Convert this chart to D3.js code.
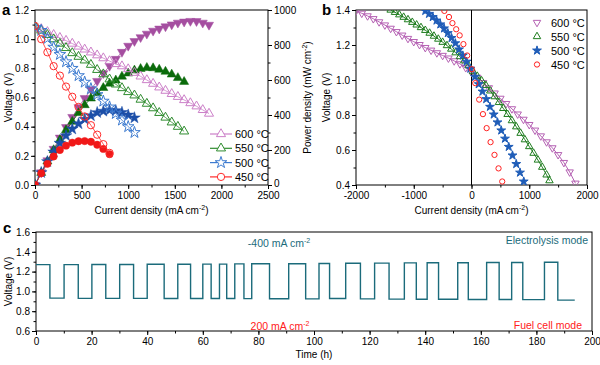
<!DOCTYPE html>
<html><head><meta charset="utf-8">
<script src="https://cdn.jsdelivr.net/npm/d3@7"></script>
<style>body{margin:0;background:#fff} svg{display:block} text{font-family:"Liberation Sans",Arial,sans-serif}</style>
</head><body><svg id="c" width="600" height="365"></svg>
<script>
// ---------- DATA ----------
const temps = ["600 °C", "550 °C", "500 °C", "450 °C"];
const currentA = [0,67,133,200,267,333,400,467,533,600,667,733,800,867,933,1000,1067,1133,1200,1267,1333,1400,1467,1533,1600,1667,1733,1800,1867];
const V600 = [1.09,1.07,1.05,1.03,1.01,0.99,0.97,0.95,0.93,0.91,0.89,0.87,0.85,0.83,0.815,0.795,0.77,0.745,0.72,0.695,0.67,0.647,0.625,0.605,0.583,0.562,0.54,0.515,0.49];
const P600 = [0,72,140,206,270,330,388,444,496,546,594,638,680,720,760,795,822,844,864,881,893,906,917,927,933,937,936,927,915];
const V550 = [1.09,1.06,1.03,1.00,0.97,0.94,0.905,0.88,0.855,0.825,0.79,0.76,0.725,0.69,0.665,0.638,0.615,0.586,0.558,0.527,0.495,0.463,0.43,0.40,0.368];
const P550 = [0,70,135,200,258,314,362,412,457,495,525,555,580,598,620,638,655,664,670,668,660,648,632,612,590];
const V500 = [1.08,1.06,1.005,0.945,0.895,0.845,0.80,0.75,0.705,0.66,0.62,0.575,0.535,0.49,0.445,0.40,0.36];
const P500 = [0,71,134,189,239,282,320,350,376,396,414,422,428,425,415,400,384];
const V450 = [1.09,1.00,0.91,0.815,0.75,0.675,0.605,0.535,0.47,0.41,0.345,0.28,0.22];
const P450 = [0,67,121,163,200,225,242,250,251,247,230,206,176];

// panel b (reversible operation)
const bI600 = [-2000,-1900,-1800,-1700,-1600,-1500,-1400,-1300,-1200,-1100,-1000,-900,-800,-700,-600,-500,-400,-300,-200,-100,0,100,200,300,400,500,600,700,800,900,1000,1100,1200,1300,1400,1500,1600,1700,1800];
const bV600 = [1.395,1.381,1.366,1.350,1.332,1.314,1.295,1.276,1.256,1.237,1.219,1.202,1.185,1.170,1.155,1.140,1.125,1.109,1.092,1.070,1.045,1.015,0.985,0.955,0.925,0.895,0.865,0.835,0.805,0.775,0.745,0.713,0.680,0.646,0.612,0.573,0.528,0.474,0.410];
const bI550 = [-1400,-1325,-1250,-1175,-1100,-1025,-950,-875,-800,-725,-650,-575,-500,-425,-350,-275,-200,-125,-50,25,100,175,250,325,400,475,550,625,700,775,850,925,1000,1075,1150,1225,1300,1350];
const bV550 = [1.400,1.387,1.373,1.359,1.345,1.330,1.315,1.300,1.284,1.268,1.251,1.234,1.216,1.197,1.177,1.156,1.134,1.110,1.082,1.048,1.022,0.996,0.969,0.938,0.905,0.872,0.838,0.804,0.768,0.733,0.696,0.659,0.620,0.582,0.543,0.502,0.458,0.425];
const bI500 = [-800,-735,-670,-605,-540,-475,-410,-345,-280,-215,-150,-85,-20,60,125,190,255,320,385,450,515,580,645,710,775,840,905];
const bV500 = [1.395,1.378,1.36,1.34,1.318,1.295,1.268,1.24,1.21,1.175,1.14,1.105,1.065,1.018,0.976,0.934,0.891,0.847,0.803,0.758,0.712,0.665,0.618,0.569,0.520,0.471,0.420];
const bI450 = [-470,-390,-330,-265,-205,-140,-75,5,65,133,198,262,330,398,468,532];
const bV450 = [1.395,1.36,1.325,1.29,1.255,1.205,1.14,1.062,0.982,0.888,0.805,0.725,0.645,0.572,0.495,0.42];

// panel c (cycling)
const highStart = [0,10.1,20.1,30.1,40,51,60,66,71.5,77.6,90.9,101.8,111.4,121.8,132.5,140.7,151.7,162.1,171.1,182.9];
const highEnd   = [5,15.2,25.1,35.1,46.1,55.6,63,68.6,74.8,84,97,105.6,116.7,127,136.8,144.8,155.5,166.6,175.1,187.7];
const highV = [1.270,1.270,1.272,1.272,1.274,1.274,1.276,1.276,1.278,1.280,1.280,1.282,1.284,1.286,1.288,1.290,1.290,1.292,1.292,1.294];
const lowV  = [0.932,0.930,0.930,0.930,0.929,0.928,0.928,0.928,0.927,0.926,0.925,0.928,0.924,0.922,0.920,0.920,0.918,0.918,0.917,0.912];
const endTime = 193.8;

// ticks
const aXTicks = [0,500,1000,1500,2000,2500];
const aYTicks = [0,0.2,0.4,0.6,0.8,1.0,1.2];
const aPTicks = [0,200,400,600,800,1000];
const bXTicks = [-2000,-1000,0,1000,2000];
const bYTicks = [0.4,0.6,0.8,1.0,1.2,1.4];
const cXTicks = [0,20,40,60,80,100,120,140,160,180,200];
const cYTicks = [0.6,0.8,1.0,1.2,1.4,1.6];

// ---------- STYLE ----------
const openCol = {"600 °C":"#cc7fc8","550 °C":"#2f8c2f","500 °C":"#3d7bd0","450 °C":"#ff2a2a"};
const fillCol = {"600 °C":"#a54ea0","550 °C":"#0b6b0b","500 °C":"#1c4fa8","450 °C":"#f01818"};
const bCol = {"600 °C":"#b561b3","550 °C":"#1f7d1f","500 °C":"#1f5db8","450 °C":"#ff2020"};
const teal = "#1b6b7b";
const FONT = '"Liberation Sans", Arial, sans-serif';

const svg = d3.select("#c");
const defs = svg.append("defs");

function addAxis(g, scale, kind, major, minor, fmt, tx, ty) {
  const mk = kind === "b" ? d3.axisBottom : kind === "l" ? d3.axisLeft : d3.axisRight;
  const gm = g.append("g").attr("transform", `translate(${tx},${ty})`)
    .call(mk(scale).tickValues(minor).tickSize(2.5).tickSizeOuter(0).tickFormat(""));
  gm.select(".domain").remove();
  const ga = g.append("g").attr("transform", `translate(${tx},${ty})`)
    .call(mk(scale).tickValues(major).tickSize(4).tickSizeOuter(0).tickPadding(kind === "b" ? 3 : 2).tickFormat(fmt));
  ga.select(".domain").remove();
  [gm, ga].forEach(x => x.selectAll("line").attr("stroke", "#000").attr("stroke-width", 1));
  ga.selectAll("text").attr("font-family", FONT).attr("font-size", 10).attr("fill", "#000");
  return ga;
}
function frame(x0, y0, x1, y1) {
  svg.append("rect").attr("x", x0).attr("y", y0).attr("width", x1 - x0).attr("height", y1 - y0)
    .attr("fill", "none").attr("stroke", "#000").attr("stroke-width", 1);
}
function clip(id, x0, y0, x1, y1) {
  defs.append("clipPath").attr("id", id).append("rect")
    .attr("x", x0).attr("y", y0).attr("width", x1 - x0).attr("height", y1 - y0);
}
function cmTitle(x, y, pre, rot) {
  const t = svg.append("text").attr("font-family", FONT).attr("font-size", 10).attr("fill", "#000")
    .attr("text-anchor", "middle");
  if (rot) t.attr("transform", `translate(${x},${y}) rotate(-90)`); else t.attr("x", x).attr("y", y);
  t.append("tspan").text(pre + " (m" + (pre.startsWith("Power") ? "W" : "A") + " cm");
  t.append("tspan").attr("font-size", 7).attr("dy", -4).text("-2");
  t.append("tspan").attr("dy", 4).text(")");
  return t;
}
const sym = {
  tri: d3.symbol().type(d3.symbolTriangle),
  star: d3.symbol().type(d3.symbolStar),
  circ: d3.symbol().type(d3.symbolCircle)
};

// ---------- PANEL A ----------
const A = {x0: 35, x1: 268, y0: 10, y1: 185};
const xa = d3.scaleLinear().domain([0, 2500]).range([A.x0, A.x1]);
const ya = d3.scaleLinear().domain([0, 1.2]).range([A.y1, A.y0]);
const pa = d3.scaleLinear().domain([0, 1000]).range([A.y1, A.y0]);
clip("clipA", A.x0, A.y0, A.x1, A.y1);
const gA = svg.append("g");
addAxis(gA, xa, "b", aXTicks, d3.range(0, 2501, 250), d => String(d), 0, A.y1);
addAxis(gA, ya, "l", aYTicks, d3.range(0, 12.01, 1).map(v => v / 10), d3.format(".1f"), A.x0, 0);
const rAx = addAxis(gA, pa, "r", aPTicks, d3.range(0, 1001, 100), d => String(d), A.x1, 0);
rAx.selectAll("text").filter(d => d === 0).attr("dy", "0.1em");
frame(A.x0, A.y0, A.x1, A.y1);

const seriesA = [
  {t: "600 °C", V: V600, P: P600, shape: "tri", pShape: "tri", pRot: 180, size: 36},
  {t: "550 °C", V: V550, P: P550, shape: "tri", pShape: "tri", pRot: 0, size: 36},
  {t: "500 °C", V: V500, P: P500, shape: "star", pShape: "star", pRot: 0, size: 42},
  {t: "450 °C", V: V450, P: P450, shape: "circ", pShape: "circ", pRot: 0, size: 42}
];
const plotA = svg.append("g").attr("clip-path", "url(#clipA)");
// power curves (filled)
seriesA.forEach(s => {
  const pts = s.P.map((p, i) => [currentA[i], p]);
  plotA.append("path").datum(pts).attr("fill", "none").attr("stroke", fillCol[s.t]).attr("stroke-width", 0.8)
    .attr("d", d3.line().x(d => xa(d[0])).y(d => pa(d[1])));
  plotA.selectAll(null).data(pts).join("path")
    .attr("transform", d => `translate(${xa(d[0])},${pa(d[1])}) rotate(${s.pRot})`)
    .attr("d", sym[s.pShape].size(s.size)())
    .attr("fill", fillCol[s.t]).attr("stroke", fillCol[s.t]).attr("stroke-width", 0.5);
});
// voltage curves (open)
seriesA.forEach(s => {
  const pts = s.V.map((v, i) => [currentA[i], v]);
  plotA.append("path").datum(pts).attr("fill", "none").attr("stroke", openCol[s.t]).attr("stroke-width", 0.8)
    .attr("d", d3.line().x(d => xa(d[0])).y(d => ya(d[1])));
  plotA.selectAll(null).data(pts).join("path")
    .attr("transform", d => `translate(${xa(d[0])},${ya(d[1])})`)
    .attr("d", sym[s.shape].size(s.size)())
    .attr("fill", "none").attr("stroke", openCol[s.t]).attr("stroke-width", 1);
});
// legend a
const legA = svg.append("g");
seriesA.forEach((s, i) => {
  const y = 134 + i * 14.3;
  legA.append("line").attr("x1", 210).attr("x2", 232).attr("y1", y).attr("y2", y)
    .attr("stroke", openCol[s.t]).attr("stroke-width", 1.2);
  legA.append("path").attr("transform", `translate(221,${y})`).attr("d", sym[s.shape].size(s.size)())
    .attr("fill", "#fff").attr("stroke", openCol[s.t]).attr("stroke-width", 1);
  legA.append("text").attr("x", 235).attr("y", y + 4).attr("font-family", FONT).attr("font-size", 11)
    .attr("fill", "#000").text(s.t);
});
svg.append("text").attr("x", 2).attr("y", 15).attr("font-family", FONT).attr("font-size", 15)
  .attr("font-weight", "bold").text("a");
svg.append("text").attr("transform", `translate(12,${(A.y0 + A.y1) / 2}) rotate(-90)`)
  .attr("text-anchor", "middle").attr("font-family", FONT).attr("font-size", 10).text("Voltage (V)");
cmTitle((A.x0 + A.x1) / 2, 214, "Current density", false);
cmTitle(311, (A.y0 + A.y1) / 2, "Power density", true);

// ---------- PANEL B ----------
const B = {x0: 356, x1: 587, y0: 10, y1: 185};
const xb = d3.scaleLinear().domain([-2000, 2000]).range([B.x0, B.x1]);
const yb = d3.scaleLinear().domain([0.4, 1.4]).range([B.y1, B.y0]);
clip("clipB", B.x0, B.y0, B.x1, B.y1);
const gB = svg.append("g");
addAxis(gB, xb, "b", bXTicks, d3.range(-2000, 2001, 500), d => String(d), 0, B.y1);
addAxis(gB, yb, "l", bYTicks, d3.range(4, 14.01, 1).map(v => v / 10), d3.format(".1f"), B.x0, 0);
frame(B.x0, B.y0, B.x1, B.y1);
svg.append("line").attr("x1", xb(0)).attr("x2", xb(0)).attr("y1", B.y0).attr("y2", B.y1)
  .attr("stroke", "#000").attr("stroke-width", 1);
const seriesB = [
  {t: "600 °C", I: bI600, V: bV600, shape: "tri", rot: 180, size: 24, fill: false, line: true},
  {t: "550 °C", I: bI550, V: bV550, shape: "tri", rot: 0, size: 24, fill: false, line: true},
  {t: "500 °C", I: bI500, V: bV500, shape: "star", rot: 0, size: 24, fill: true, line: false},
  {t: "450 °C", I: bI450, V: bV450, shape: "circ", rot: 0, size: 22, fill: false, line: false}
];
const plotB = svg.append("g").attr("clip-path", "url(#clipB)");
seriesB.forEach(s => {
  const pts = s.I.map((c, i) => [c, s.V[i]]);
  if (s.line) plotB.append("path").datum(pts).attr("fill", "none").attr("stroke", bCol[s.t])
    .attr("stroke-width", 1).attr("d", d3.line().x(d => xb(d[0])).y(d => yb(d[1])));
  plotB.selectAll(null).data(pts).join("path")
    .attr("transform", d => `translate(${xb(d[0])},${yb(d[1])}) rotate(${s.rot})`)
    .attr("d", sym[s.shape].size(s.size)())
    .attr("fill", s.fill ? bCol[s.t] : "none").attr("stroke", bCol[s.t]).attr("stroke-width", 1);
});
const legB = svg.append("g");
seriesB.forEach((s, i) => {
  const y = 22.5 + i * 14;
  legB.append("path").attr("transform", `translate(537,${y}) rotate(${s.rot})`)
    .attr("d", sym[s.shape].size(s.size)())
    .attr("fill", s.fill ? bCol[s.t] : "none").attr("stroke", bCol[s.t]).attr("stroke-width", 1);
  legB.append("text").attr("x", 551).attr("y", y + 4).attr("font-family", FONT).attr("font-size", 11)
    .text(s.t);
});
svg.append("text").attr("x", 322).attr("y", 15).attr("font-family", FONT).attr("font-size", 15)
  .attr("font-weight", "bold").text("b");
svg.append("text").attr("transform", `translate(330,${(B.y0 + B.y1) / 2}) rotate(-90)`)
  .attr("text-anchor", "middle").attr("font-family", FONT).attr("font-size", 10).text("Voltage (V)");
cmTitle(xb(0), 214, "Current density", false);

// ---------- PANEL C ----------
const C = {x0: 36, x1: 592, y0: 232, y1: 331};
const xc = d3.scaleLinear().domain([0, 200]).range([C.x0, C.x1]);
const yc = d3.scaleLinear().domain([0.6, 1.6]).range([C.y1, C.y0]);
const gC = svg.append("g");
addAxis(gC, xc, "b", cXTicks, d3.range(0, 201, 10), d => String(d), 0, C.y1);
addAxis(gC, yc, "l", cYTicks, d3.range(6, 16.01, 1).map(v => v / 10), d3.format(".1f"), C.x0, 0);
frame(C.x0, C.y0, C.x1, C.y1);
const stepPts = [];
highStart.forEach((t0, i) => {
  const t1 = highEnd[i];
  const tNext = i + 1 < highStart.length ? highStart[i + 1] : endTime;
  stepPts.push([t0, highV[i]], [t1, highV[i]], [t1, lowV[i]], [tNext, lowV[i]]);
});
svg.append("path").datum(stepPts).attr("fill", "none").attr("stroke", teal).attr("stroke-width", 1.4)
  .attr("d", d3.line().x(d => xc(d[0])).y(d => yc(d[1])));
function cmText(x, y, num, col, anchor) {
  const t = svg.append("text").attr("x", x).attr("y", y).attr("font-family", FONT).attr("font-size", 10.5)
    .attr("fill", col).attr("text-anchor", anchor);
  t.append("tspan").text(num + " mA cm");
  t.append("tspan").attr("font-size", 7).attr("dy", -4).text("-2");
  return t;
}
cmText(279, 247, "-400", teal, "middle");
cmText(280, 330, "200", "#ff2020", "middle");
svg.append("text").attr("x", 588).attr("y", 244).attr("text-anchor", "end").attr("font-family", FONT)
  .attr("font-size", 10.5).attr("fill", teal).text("Electrolysis mode");
svg.append("text").attr("x", 582).attr("y", 329).attr("text-anchor", "end").attr("font-family", FONT)
  .attr("font-size", 10.5).attr("fill", "#ff2020").text("Fuel cell mode");
svg.append("text").attr("x", 3).attr("y", 233).attr("font-family", FONT).attr("font-size", 15)
  .attr("font-weight", "bold").text("c");
svg.append("text").attr("transform", `translate(12,${(C.y0 + C.y1) / 2}) rotate(-90)`)
  .attr("text-anchor", "middle").attr("font-family", FONT).attr("font-size", 10).text("Voltage (V)");
svg.append("text").attr("x", (C.x0 + C.x1) / 2).attr("y", 358).attr("text-anchor", "middle")
  .attr("font-family", FONT).attr("font-size", 10).text("Time (h)");
</script></body></html>
